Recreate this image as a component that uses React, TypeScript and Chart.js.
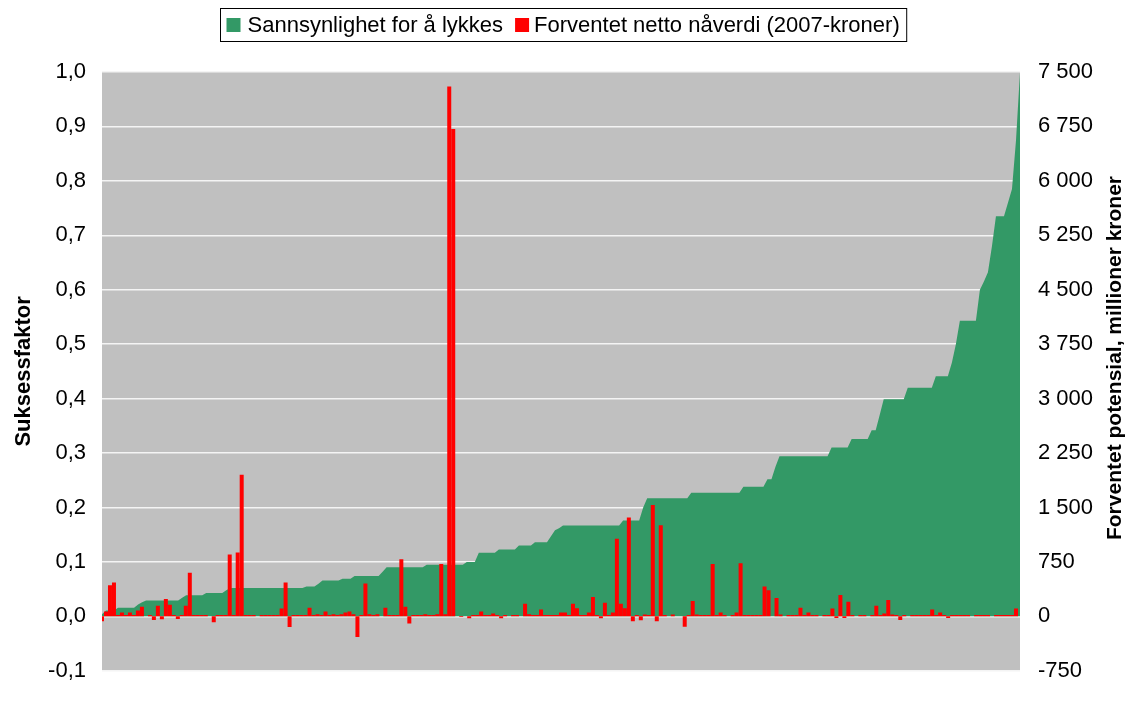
import React, { useEffect, useRef } from 'react';
import { Chart, registerables } from 'chart.js';

Chart.register(...registerables);

const projectCount = 230;
const projectLabels: string[] = Array.from({ length: projectCount }, (_, i) => `Prosjekt ${i + 1}`);

const successProbability: number[] = [
  0.004, 0.011, 0.011, 0.011, 0.016, 0.016, 0.016, 0.016, 0.016, 0.022,
  0.026, 0.029, 0.029, 0.029, 0.029, 0.029, 0.029, 0.029, 0.029, 0.029,
  0.034, 0.039, 0.039, 0.039, 0.039, 0.039, 0.043, 0.043, 0.043, 0.043,
  0.043, 0.048, 0.052, 0.052, 0.052, 0.052, 0.052, 0.052, 0.052, 0.052,
  0.052, 0.052, 0.052, 0.052, 0.052, 0.052, 0.052, 0.052, 0.052, 0.052,
  0.052, 0.055, 0.055, 0.055, 0.06, 0.066, 0.066, 0.066, 0.066, 0.066,
  0.069, 0.069, 0.069, 0.074, 0.074, 0.074, 0.074, 0.074, 0.074, 0.074,
  0.082, 0.09, 0.09, 0.09, 0.09, 0.09, 0.09, 0.09, 0.09, 0.09,
  0.09, 0.095, 0.095, 0.095, 0.095, 0.095, 0.095, 0.095, 0.095, 0.095,
  0.095, 0.1, 0.1, 0.1, 0.117, 0.117, 0.117, 0.117, 0.117, 0.123,
  0.123, 0.123, 0.123, 0.123, 0.13, 0.13, 0.13, 0.13, 0.136, 0.136,
  0.136, 0.136, 0.147, 0.158, 0.162, 0.167, 0.167, 0.167, 0.167, 0.167,
  0.167, 0.167, 0.167, 0.167, 0.167, 0.167, 0.167, 0.167, 0.167, 0.167,
  0.176, 0.176, 0.176, 0.176, 0.176, 0.2, 0.217, 0.217, 0.217, 0.217,
  0.217, 0.217, 0.217, 0.217, 0.217, 0.217, 0.217, 0.227, 0.227, 0.227,
  0.227, 0.227, 0.227, 0.227, 0.227, 0.227, 0.227, 0.227, 0.227, 0.227,
  0.238, 0.238, 0.238, 0.238, 0.238, 0.238, 0.252, 0.252, 0.275, 0.294,
  0.294, 0.294, 0.294, 0.294, 0.294, 0.294, 0.294, 0.294, 0.294, 0.294,
  0.294, 0.294, 0.31, 0.31, 0.31, 0.31, 0.31, 0.326, 0.326, 0.326,
  0.326, 0.326, 0.342, 0.342, 0.37, 0.399, 0.399, 0.399, 0.399, 0.399,
  0.399, 0.42, 0.42, 0.42, 0.42, 0.42, 0.42, 0.42, 0.441, 0.441,
  0.441, 0.441, 0.466, 0.5, 0.543, 0.543, 0.543, 0.543, 0.543, 0.6,
  0.615, 0.632, 0.68, 0.735, 0.735, 0.735, 0.76, 0.785, 0.874, 1.0,
];

const expectedNetPresentValue: number[] = [
  -67, 67, 430, 467, 18, 53, 18, 53, 18, 80,
  133, 0, 18, -50, 147, -40, 240, 160, 18, -35,
  18, 147, 600, 18, 18, 18, 18, 0, -80, 18,
  18, 18, 854, 18, 880, 1950, 18, 18, 18, 0,
  18, 18, 18, 18, 18, 110, 467, -147, 18, 18,
  18, 18, 120, 18, 30, 18, 67, 18, 30, 18,
  30, 53, 67, 30, -285, 18, 453, 30, 18, 30,
  0, 120, 18, 18, 18, 787, 133, -100, 18, 18,
  18, 30, 18, 18, 30, 720, 30, 7300, 6713, 0,
  -10, 0, -27, 18, 18, 67, 18, 18, 40, 18,
  -25, 18, 0, 18, 18, 0, 173, 30, 18, 18,
  93, 18, 18, 18, 18, 53, 53, 18, 173, 111,
  18, 18, 53, 267, 18, -25, 187, 18, 53, 1068,
  173, 111, 1361, -67, 18, -53, 27, 18, 1535, -67,
  1254, 18, 0, 27, 0, 0, -142, 18, 213, 27,
  18, 18, 18, 720, 18, 53, 18, 0, 18, 53,
  733, 18, 18, 18, 18, 18, 413, 360, 0, 253,
  27, 0, 18, 18, 18, 120, 18, 53, 18, 18,
  0, 18, 18, 107, -22, 293, -22, 200, 18, 0,
  18, 18, 0, 18, 147, 18, 40, 227, 27, 18,
  -50, 18, 0, 18, 18, 18, 18, 18, 93, 18,
  53, 18, -22, 18, 18, 18, 18, 18, 0, 18,
  18, 18, 18, 0, 18, 18, 18, 18, 18, 107,
];

const leftAxisRange = [-0.1, 1.0];
const leftAxisStep = 0.1;
const rightAxisRange = [-750, 7500];
const rightAxisStep = 750;

const seriesNames = ['Sannsynlighet for å lykkes', 'Forventet netto nåverdi (2007-kroner)'];
const seriesColors = ['#339966', '#FF0000'];
const leftTitle = 'Suksessfaktor';
const rightTitle = 'Forventet potensial, millioner kroner';

const FONT = '"Liberation Sans", Arial, sans-serif';

const decorPlugin = {
  id: 'decor',
  beforeDraw(chart: any) {
    const { ctx, chartArea: a } = chart;
    ctx.save();
    ctx.fillStyle = '#C0C0C0';
    ctx.fillRect(a.left, a.top, a.right - a.left, a.bottom - a.top);
    ctx.restore();
  },
  afterDraw(chart: any) {
    const { ctx, chartArea: a } = chart;
    ctx.save();
    ctx.fillStyle = '#000';
    ctx.textAlign = 'center';
    ctx.textBaseline = 'middle';
    ctx.font = `bold 22px ${FONT}`;
    ctx.save();
    ctx.translate(24, (a.top + a.bottom) / 2);
    ctx.rotate(-Math.PI / 2);
    ctx.fillText(leftTitle, 0, 0);
    ctx.restore();
    ctx.font = `bold 21px ${FONT}`;
    ctx.save();
    ctx.translate(1115, 358);
    ctx.rotate(-Math.PI / 2);
    ctx.fillText(rightTitle, 0, 0);
    ctx.restore();

    ctx.font = `22px ${FONT}`;
    const w1 = ctx.measureText(seriesNames[0]).width;
    const w2 = ctx.measureText(seriesNames[1]).width;
    const sq = 14;
    const padL = 6, gapSq = 7, gapItem = 12, gapSq2 = 5, padR = 7;
    const boxW = padL + sq + gapSq + w1 + gapItem + sq + gapSq2 + w2 + padR;
    const cx = 563;
    const boxL = Math.round(cx - boxW / 2) + 0.5;
    const boxT = 8.5, boxH = 33;
    const cy = boxT + boxH / 2;
    ctx.strokeStyle = '#000';
    ctx.lineWidth = 1;
    ctx.strokeRect(boxL, boxT, boxW, boxH);
    let x = boxL + padL;
    ctx.fillStyle = seriesColors[0];
    ctx.fillRect(x, cy - sq / 2, sq, sq);
    x += sq + gapSq;
    ctx.fillStyle = '#000';
    ctx.textAlign = 'left';
    ctx.fillText(seriesNames[0], x, cy + 1);
    x += w1 + gapItem;
    ctx.fillStyle = seriesColors[1];
    ctx.fillRect(x, cy - sq / 2, sq, sq);
    x += sq + gapSq2;
    ctx.fillStyle = '#000';
    ctx.fillText(seriesNames[1], x, cy + 1);
    ctx.restore();
  },
};

export default function App() {
  const ref = useRef<HTMLCanvasElement>(null);
  useEffect(() => {
    if (!ref.current) return;
    const chart = new Chart(ref.current, {
      type: 'bar',
      data: {
        labels: projectLabels,
        datasets: [
          {
            type: 'bar',
            label: seriesNames[1],
            data: expectedNetPresentValue,
            backgroundColor: seriesColors[1],
            borderWidth: 0,
            yAxisID: 'y2',
            xAxisID: 'x',
            order: 0,
            categoryPercentage: 1,
            barPercentage: 1,
            barThickness: 4,
            inflateAmount: 0,
          } as any,
          {
            type: 'line',
            label: seriesNames[0],
            data: successProbability,
            backgroundColor: seriesColors[0],
            borderColor: seriesColors[0],
            borderWidth: 0,
            pointRadius: 0,
            fill: 'origin',
            tension: 0,
            yAxisID: 'y',
            xAxisID: 'x2',
            order: 1,
          } as any,
        ],
      },
      options: {
        responsive: false,
        animation: false,
        events: [],
        layout: { padding: { top: 72, bottom: 12, left: 0, right: 0 } },
        datasets: { bar: { categoryPercentage: 1, barPercentage: 1 } },
        plugins: {
          legend: { display: false },
          tooltip: { enabled: false },
        },
        scales: {
          x: { type: 'category', display: false, offset: true, grid: { display: false } },
          x2: { type: 'category', display: false, offset: false, grid: { display: false } },
          y: {
            position: 'left',
            min: leftAxisRange[0],
            max: leftAxisRange[1],
            ticks: {
              stepSize: leftAxisStep,
              padding: 16,
              color: '#000',
              font: { family: FONT, size: 22 },
              callback: (v: any) => (Math.round(Number(v) * 10) / 10).toFixed(1).replace('.', ','),
            },
            grid: { color: '#F4F4F4', lineWidth: 1.5, drawTicks: false },
            border: { display: false },
            afterFit: (s: any) => { s.width = 102; },
          },
          y2: {
            position: 'right',
            min: rightAxisRange[0],
            max: rightAxisRange[1],
            ticks: {
              stepSize: rightAxisStep,
              padding: 18,
              color: '#000',
              font: { family: FONT, size: 22 },
              callback: (v: any) => String(Math.round(Number(v))).replace(/\B(?=(\d{3})+(?!\d))/g, ' '),
            },
            grid: { display: false, drawTicks: false },
            border: { display: false },
            afterFit: (s: any) => { s.width = 110; },
          },
        },
      } as any,
      plugins: [decorPlugin],
    });
    return () => chart.destroy();
  }, []);

  return (
    <div style={{ position: 'absolute', left: 0, top: 0, width: 1130, height: 702, background: '#fff' }}>
      <canvas ref={ref} width={1130} height={702} style={{ display: 'block' }} />
    </div>
  );
}
